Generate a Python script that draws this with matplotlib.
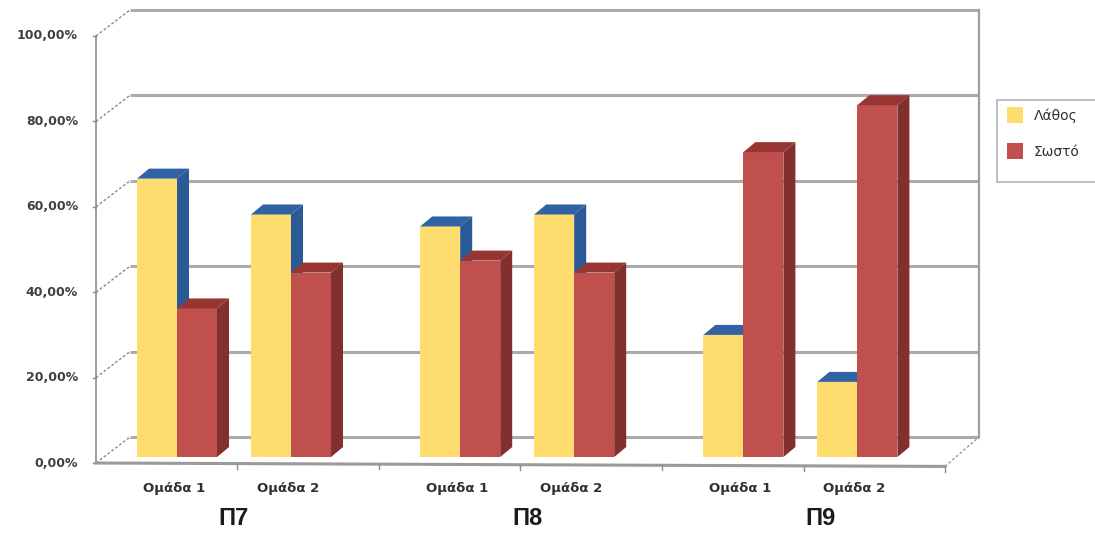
import numpy as np
import matplotlib.pyplot as plt
from matplotlib.patches import Polygon, Rectangle

# data (percent)
groups = ["Π7", "Π8", "Π9"]
members = ["Ομάδα 1", "Ομάδα 2"]
series = ["Λάθος", "Σωστό"]
lathos = [65.2, 56.8, 54.0, 56.8, 28.6, 17.6]
sosto = [34.8, 43.2, 46.0, 43.2, 71.4, 82.4]
yticks = [0, 20, 40, 60, 80, 100]
ytick_labels = ["0,00%", "20,00%", "40,00%", "60,00%", "80,00%", "100,00%"]

# colours
yellow = "#FFDC6E"
blue_side = "#2A5A95"
blue_top = "#2F63A3"
red = "#C0504D"
red_side = "#82302D"
red_top = "#963532"
grid_c = "#ABABAB"

# pseudo 3d layout (x unit = one bar width)
GROUP_STEP = 7.08
MEMBER_STEP = 2.85
BAR_W = 1.0
BAR_DX, BAR_DY = 0.3, 2.34
BASE = 1.4
WALL_DX, WALL_DY = 0.85, 6.1
X_LEFT, X_RIGHT = -1.025, 20.2
FLOOR_DROP = -0.8

fig = plt.figure(figsize=(10.95, 5.33), dpi=100)
ax = fig.add_axes([0, 0, 1, 1])
ax.set_xlim(-3.425, 23.95)
ax.set_ylim(-16.39, 108.43)
ax.axis("off")

# back wall gridlines + side diagonals
for v in yticks:
    ax.plot([X_LEFT + WALL_DX, X_RIGHT + WALL_DX], [v + WALL_DY, v + WALL_DY],
            color=grid_c, lw=2.2, zorder=1, solid_capstyle="butt")
    ax.plot([X_LEFT, X_LEFT + WALL_DX], [v, v + WALL_DY], color="#8a8a8a",
            lw=1.0, ls=(0, (2, 1.5)), zorder=1)
    ax.plot([X_LEFT - 0.08, X_LEFT], [v, v], color="#8a8a8a", lw=1.0, zorder=1)
# wall / floor edges
ax.plot([X_LEFT, X_LEFT], [0, 100], color="#8c8c8c", lw=1.2, zorder=2)
ax.plot([X_RIGHT + WALL_DX] * 2, [WALL_DY, 100 + WALL_DY], color="#a0a0a0", lw=1.6, zorder=1)
ax.plot([X_LEFT, X_RIGHT], [0, FLOOR_DROP], color="#9a9a9a", lw=2.2, zorder=2)
ax.plot([X_RIGHT, X_RIGHT + WALL_DX], [FLOOR_DROP, WALL_DY], color="#9a9a9a", lw=1.0,
        ls=(0, (2, 1.5)), zorder=1)
for tx in np.linspace(X_LEFT, X_RIGHT, 7)[1:]:
    ty = FLOOR_DROP * (tx - X_LEFT) / (X_RIGHT - X_LEFT)
    ax.plot([tx, tx], [ty, ty - 1.2], color="#8c8c8c", lw=1.0, zorder=2)

for v, lab in zip(yticks, ytick_labels):
    ax.text(X_LEFT - 0.45, v, lab, ha="right", va="center", fontsize=9,
            fontweight="bold", color="#404040", family="DejaVu Sans")


def bar3d(x, h, front, top, side, z):
    y0, y1 = BASE, BASE + h
    ax.add_patch(Polygon([(x, y0), (x + BAR_W, y0), (x + BAR_W, y1), (x, y1)],
                         closed=True, fc=front, ec="none", zorder=z))
    ax.add_patch(Polygon([(x, y1), (x + BAR_W, y1), (x + BAR_W + BAR_DX, y1 + BAR_DY),
                          (x + BAR_DX, y1 + BAR_DY)], closed=True, fc=top, ec="none", zorder=z))
    ax.add_patch(Polygon([(x + BAR_W, y0), (x + BAR_W + BAR_DX, y0 + BAR_DY),
                          (x + BAR_W + BAR_DX, y1 + BAR_DY), (x + BAR_W, y1)],
                         closed=True, fc=side, ec="none", zorder=z))


z = 3
for g in range(len(groups)):
    for m in range(len(members)):
        i = g * len(members) + m
        x = g * GROUP_STEP + m * MEMBER_STEP
        bar3d(x, lathos[i], yellow, blue_top, blue_side, z)
        bar3d(x + BAR_W, sosto[i], red, red_top, red_side, z + 1)
        z += 2
        ax.text(x + BAR_W - 0.08, -6.0, members[m], ha="center", va="center",
                fontsize=9.5, fontweight="bold", color="#303030", family="DejaVu Sans")
    gx = g * GROUP_STEP + MEMBER_STEP / 2 + BAR_W + g * 0.25
    ax.text(gx, -13.1, groups[g], ha="center", va="center", fontsize=17,
            fontweight="bold", color="#1a1a1a", family="Liberation Sans")

# legend box (runs past the right edge like the original)
W, H = 1095.0, 533.0
fig.patches.append(Rectangle((997 / W, 1 - 182 / H), 110 / W, 82 / H, transform=fig.transFigure,
                             fc="white", ec="#b4b4b4", lw=1.2, zorder=10))
for k, (lab, c) in enumerate(zip(series, [yellow, red])):
    yc = 115 + 36 * k
    fig.patches.append(Rectangle((1007 / W, 1 - (yc + 8) / H), 16 / W, 16 / H,
                                 transform=fig.transFigure, fc=c, ec="none", zorder=11))
    fig.text(1034 / W, 1 - (yc + 1) / H, lab, ha="left", va="center", fontsize=10,
             color="#303030", zorder=12)

fig.savefig("out.png", dpi=100)
